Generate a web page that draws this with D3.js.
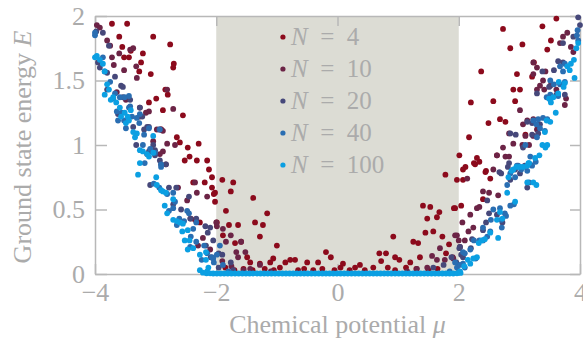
<!DOCTYPE html>
<meta charset="utf-8">
<script src="https://cdn.jsdelivr.net/npm/d3@7"></script>
<style>
body { margin: 0; background: #fff; }
text { font-family: "Liberation Serif", serif; fill: #ababab; }
.axis path, .axis line { stroke: #b8b8b8; stroke-width: 1.5px; }
.axis text { font-size: 26px; fill: #ababab; font-family: "Liberation Serif", serif; }
</style>
<body>
<div id="chart"></div>
<script>
// series labels, colours
var labels = ["4", "10", "20", "40", "100"]
var colors = ["#8c0a1c", "#6c2446", "#46487a", "#2a6eb2", "#0b9fe2"]
var xTicks = [-4, -2, 0, 2, 4]
var yTicks = [0, 0.5, 1, 1.5, 2]
var band = [-2, 2]   // shaded region in mu

// [mu, E]
var n4 = [[-3.72,1.94],[-3.47,1.94],[-3.60,1.84],[-3.04,1.84],[-2.76,1.78],[-3.55,1.76],[-3.41,1.73],[-3.21,1.71],
  [-3.52,1.68],[-3.44,1.68],[-3.24,1.64],[-2.70,1.63],[-2.71,1.60],[-3.27,1.57],[-3.08,1.55],[-2.84,1.43],[-2.80,1.39],
  [-2.99,1.36],[-3.11,1.33],[-2.88,1.27],[-2.55,1.23],[-2.91,1.12],[-2.65,1.06],[-2.60,1.02],[-2.29,1.01],[-2.47,0.98],
  [-2.44,0.91],[-2.52,0.88],[-2.32,0.88],[-2.15,0.88],[-2.12,0.81],[-2.07,0.75],[-2.19,0.71],[-2.38,0.71],[-2.07,0.67],
  [-2.02,0.63],[-2.02,0.56],[-2.35,0.42],[-2.27,0.40],[-1.99,0.40],
  [-1.90,0.73],[-1.72,0.71],[-1.76,0.64],[-2.04,0.62],[-1.39,0.59],[-1.84,0.49],[-1.16,0.47],[-1.36,0.40],[-1.23,0.38],
  [-1.79,0.38],[-1.64,0.38],[-1.89,0.30],[-1.28,0.29],[-1.69,0.24],[-1.00,0.22],[-1.59,0.25],[-1.49,0.13],[-1.44,0.09],
  [-1.28,0.08],[-1.11,0.09],[-1.06,0.12],[-0.86,0.09],[-0.78,0.11],[-0.70,0.11],[-0.50,0.09],[-0.32,0.09],[-0.19,0.17],
  [-0.11,0.13],[-1.85,0.05],[-1.70,0.03],[-1.55,0.04],[-1.40,0.03],[-1.20,0.04],[-1.05,0.03],[-0.95,0.05],[-0.65,0.03],
  [-0.55,0.04],[-0.40,0.03],[-0.25,0.04],[-0.05,0.03],[0.05,0.05],
  [1.97,0.73],[1.41,0.53],[1.53,0.52],[1.68,0.48],[1.48,0.43],[1.64,0.44],[1.92,0.51],[1.45,0.32],[1.58,0.33],[1.73,0.29],
  [0.92,0.29],[1.25,0.25],[1.33,0.24],[1.84,0.23],[1.36,0.13],[1.79,0.16],[0.69,0.16],[0.80,0.16],[0.95,0.13],[1.02,0.11],
  [1.20,0.09],[0.72,0.10],[0.09,0.08],[0.37,0.07],[0.29,0.05],[0.59,0.05],[0.83,0.05],[1.13,0.05],[0.20,0.03],[0.45,0.03],
  [0.95,0.03],[1.30,0.04],[1.50,0.03],[1.65,0.04],
  [2.73,1.90],[3.38,1.92],[3.61,1.98],[3.05,1.78],[2.85,1.75],[3.52,1.81],[3.46,1.74],[2.37,1.57],[3.24,1.64],[2.96,1.55],
  [3.21,1.53],[2.90,1.43],[3.01,1.43],[2.93,1.34],[2.20,1.33],[2.57,1.34],[2.68,1.20],[2.77,1.18],[2.49,1.17],[2.17,1.06],
  [3.10,1.08],[2.01,0.92],[2.30,0.90],[2.63,0.92],[2.25,0.86],[2.11,0.83],[2.45,0.80],[1.78,0.77],[2.07,0.81],[2.27,0.85],
  [2.34,0.87],[2.07,0.73],[2.44,0.79],[2.52,0.74],[2.40,0.58],[2.04,0.53],[1.94,0.51]]

var n10 = [[-3.97,1.93],[-3.92,1.91],[-3.80,1.81],[-3.75,1.77],[-3.72,1.68],[-3.37,1.75],[-3.42,1.74],[-3.60,1.71],
  [-3.69,1.62],[-3.52,1.58],[-3.32,1.61],[-3.31,1.52],[-3.64,1.41],[-3.49,1.35],[-3.26,1.29],[-3.11,1.26],[-2.81,1.43],
  [-2.71,1.28],[-3.16,1.25],[-3.26,1.22],[-2.91,1.12],[-2.98,1.12],[-2.88,1.11],[-2.68,1.00],[-3.14,0.93],[-2.88,0.95],
  [-3.04,1.03],[-2.81,1.01],[-2.93,0.93],[-2.83,0.85],[-2.35,0.71],[-2.32,0.63],[-2.15,0.60],[-2.63,0.67],[-2.48,0.57],
  [-2.42,0.43],[-2.22,0.28],[-2.30,0.22],[-2.10,0.19],[-1.99,0.37],
  [-2.00,0.40],[-1.89,0.35],[-1.76,0.30],[-1.84,0.25],[-1.59,0.25],[-1.67,0.17],[-1.52,0.17],[-1.64,0.13],[-1.28,0.07],
  [-1.44,0.04],[-1.75,0.06],[-1.90,0.10],[-1.10,0.02],[-1.55,0.03],
  [2.06,0.40],[1.94,0.30],[2.00,0.26],[1.69,0.20],[1.56,0.14],[1.64,0.11],[1.77,0.11],[1.48,0.05],[1.31,0.04],[1.90,0.13],[1.15,0.02],
  [2.73,0.98],[2.90,1.01],[3.05,1.00],[2.63,0.92],[2.77,0.91],[2.83,0.91],[2.57,0.81],[2.40,0.64],[2.50,0.63],[2.65,0.61],
  [2.14,0.74],[2.30,0.51],[2.34,0.52],[2.19,0.46],[2.24,0.36],[2.16,0.33],[1.97,0.30],[2.10,0.26],[2.02,0.21],[1.91,0.12],
  [3.67,1.79],[3.72,1.84],[3.79,1.87],[3.85,1.76],[3.89,1.72],[3.23,1.64],[3.29,1.60],[3.23,1.55],[3.43,1.57],[3.39,1.50],
  [3.34,1.46],[3.41,1.43],[3.29,1.43],[3.51,1.46],[3.61,1.43],[3.77,1.36],[3.75,1.31],[3.01,1.27],[3.13,1.19],[3.23,1.20],
  [3.06,1.16],[3.29,1.12],[3.10,1.07],[3.23,1.07],[2.83,1.09],[3.16,1.00]]

var n20 = [[-3.98,1.88],[-3.87,1.87],[-3.77,1.77],[-3.95,1.64],[-3.92,1.60],[-3.80,1.56],[-3.67,1.53],[-3.57,1.46],
  [-3.54,1.45],[-3.80,1.43],[-3.54,1.37],[-3.42,1.35],[-3.26,1.29],[-3.22,1.22],[-3.62,1.24],[-3.37,1.14],[-3.14,1.14],
  [-3.11,1.14],[-2.94,1.12],[-3.19,1.12],[-3.32,1.00],[-3.04,1.00],[-3.01,0.96],[-2.93,0.88],[-3.11,0.95],[-3.01,0.92],
  [-2.91,0.85],[-2.83,0.85],[-3.09,0.69],[-2.78,0.67],[-2.66,0.67],[-2.45,0.60],[-2.71,0.54],[-2.58,0.50],[-2.43,0.43],
  [-2.33,0.43],[-2.18,0.37],[-2.10,0.36],[-2.14,0.32],[-2.17,0.22],[-2.09,0.13],[-1.96,0.16],
  [-2.05,0.26],[-1.90,0.15],[-1.76,0.09],[-1.96,0.05],[-1.72,0.03],[2.01,0.20],[1.88,0.13],[1.75,0.07],[1.58,0.05],[2.04,0.15],
  [2.67,0.79],[2.83,0.86],[2.93,0.81],[3.01,0.78],[3.09,0.84],[3.13,0.67],[2.85,0.73],[2.47,0.57],[2.50,0.47],[2.63,0.46],
  [2.72,0.40],[2.45,0.40],[2.40,0.34],[2.22,0.27],[2.20,0.20],[2.07,0.13],[2.02,0.21],[1.96,0.09],
  [3.97,1.99],[4.00,1.93],[3.89,1.84],[3.72,1.79],[3.64,1.65],[3.72,1.64],[3.57,1.58],[3.38,1.57],[3.29,1.40],[3.49,1.45],
  [3.61,1.39],[3.75,1.39],[3.13,1.18],[3.21,1.17],[3.34,1.16],[3.31,1.09],[3.21,1.08],[2.94,1.08],[2.85,1.09],[3.06,0.98],
  [2.81,0.83],[2.70,0.78]]

var n40 = [[-4.00,1.87],[-4.00,1.85],[-3.87,1.68],[-3.84,1.57],[-3.75,1.49],[-3.67,1.40],[-3.59,1.37],[-3.51,1.37],
  [-3.44,1.38],[-3.70,1.36],[-3.64,1.26],[-3.56,1.25],[-3.44,1.29],[-3.62,1.19],[-3.52,1.19],[-3.39,1.22],[-3.31,1.21],
  [-3.26,1.24],[-3.27,1.17],[-3.49,1.13],[-3.19,1.08],[-3.11,1.13],[-2.93,1.12],[-3.42,1.30],[-3.21,1.00],[-3.09,0.97],
  [-3.01,0.94],[-3.18,0.86],[-2.91,0.85],[-2.91,0.83],[-3.03,0.70],[-2.94,0.67],[-2.81,0.62],[-2.71,0.63],[-2.68,0.56],
  [-2.71,0.51],[-2.78,0.49],[-2.48,0.49],[-2.45,0.47],[-2.61,0.43],[-2.53,0.41],[-2.65,0.38],[-2.38,0.35],[-2.33,0.40],
  [-2.42,0.29],[-2.33,0.25],[-2.43,0.21],[-2.20,0.22],[-2.15,0.16],[-2.07,0.13],[-2.24,0.11],[-2.04,0.09],
  [-1.94,0.22],[-1.99,0.15],[-2.05,0.12],[-1.89,0.07],[-1.80,0.02],[2.07,0.17],[2.07,0.08],[1.97,0.05],[1.85,0.02],
  [2.96,0.84],[3.06,0.83],[3.03,0.81],[3.13,0.80],[3.21,0.84],[2.85,0.78],[2.93,0.75],[2.80,0.69],[3.16,0.71],[2.91,0.54],
  [2.85,0.53],[2.68,0.51],[2.76,0.47],[2.57,0.50],[2.78,0.45],[2.70,0.42],[2.53,0.42],[2.71,0.36],[2.40,0.36],[2.52,0.33],
  [2.40,0.26],[2.34,0.26],[2.25,0.26],[2.47,0.29],[2.19,0.19],[2.10,0.16],[2.28,0.12],[2.10,0.05],[2.02,0.07],[1.94,0.09],
  [1.99,0.01],
  [3.95,1.85],[3.97,1.81],[3.96,1.89],[3.75,1.63],[3.67,1.61],[3.72,1.57],[3.51,1.50],[3.57,1.47],[3.67,1.47],[3.75,1.49],
  [3.51,1.39],[3.64,1.38],[3.45,1.37],[3.51,1.35],[3.23,1.19],[3.31,1.20],[3.39,1.21],[3.46,1.20],[3.28,1.16],[3.34,1.13],
  [3.29,1.06],[3.42,1.11],[3.10,1.00],[3.18,0.91],[3.27,0.87],[3.18,0.85],[2.98,0.84]]

var n100 = [[-4.00,1.68],[-3.97,1.69],[-3.92,1.66],[-3.87,1.63],[-3.84,1.57],[-3.80,1.47],[-3.84,1.39],[-3.77,1.43],
  [-3.70,1.37],[-3.74,1.35],[-3.65,1.33],[-3.59,1.29],[-3.51,1.25],[-3.46,1.22],[-3.41,1.27],[-3.49,1.17],[-3.44,1.19],
  [-3.34,1.06],[-3.31,1.09],[-3.04,1.07],[-3.57,1.22],[-3.37,1.10],[-3.26,0.96],[-3.21,0.95],[-3.14,0.93],[-3.11,0.91],
  [-3.04,0.94],[-3.26,0.86],[-3.29,0.77],[-2.99,0.75],[-2.98,0.69],[-2.88,0.64],[-2.91,0.65],[-2.83,0.63],[-2.71,0.58],
  [-2.85,0.53],[-2.81,0.47],[-2.71,0.42],[-2.65,0.41],[-2.60,0.40],[-2.55,0.39],[-2.56,0.33],[-2.47,0.34],[-2.52,0.26],
  [-2.44,0.26],[-2.47,0.19],[-2.38,0.20],[-2.27,0.15],[-2.17,0.17],[-2.17,0.11],[-2.27,0.03],[-2.13,0.05],[-2.15,0.02],
  [3.43,0.98],[3.38,1.00],[3.33,0.92],[3.16,0.86],[3.13,0.84],[3.06,0.83],[3.00,0.83],[2.95,0.83],[2.90,0.81],[2.87,0.80],
  [2.82,0.75],[3.23,0.71],[3.28,0.69],[3.13,0.71],[2.93,0.56],[2.80,0.63],[2.68,0.48],[2.72,0.43],[2.63,0.42],[2.52,0.32],
  [2.65,0.28],[2.43,0.27],[2.38,0.26],[2.33,0.24],[2.30,0.13],[2.24,0.12],[2.15,0.11],[2.19,0.08],[2.09,0.06],[2.02,0.02],
  [3.97,1.79],[3.94,1.75],[3.90,1.66],[3.85,1.63],[3.79,1.61],[3.83,1.58],[3.91,1.52],[3.75,1.48],[3.65,1.49],[3.73,1.45],
  [3.64,1.40],[3.56,1.37],[3.49,1.36],[3.52,1.33],[3.60,1.25],[3.45,1.19],[3.51,1.18],[3.42,1.10],[3.46,1.00],[3.26,0.90],
  [3.15,0.86],
  // flat part at E ~ 0
  [-2.22,0.01],[-2.16,0.005],[-2.10,0.005],[-2.05,0.004],[-1.99,0.004],[-1.93,0.004],[-1.87,0.004],[-1.81,0.004],
  [-1.75,0.004],[-1.69,0.004],[-1.63,0.004],[-1.57,0.004],[-1.51,0.004],[-1.45,0.004],[-1.39,0.004],[-1.33,0.004],
  [-1.27,0.004],[-1.21,0.004],[-1.15,0.004],[-1.09,0.004],[-1.03,0.004],[-0.97,0.004],[-0.91,0.004],[-0.85,0.004],
  [-0.79,0.004],[-0.73,0.004],[-0.67,0.004],[-0.61,0.004],[-0.55,0.004],[-0.49,0.004],[-0.43,0.004],[-0.37,0.004],
  [-0.31,0.004],[-0.25,0.004],[-0.19,0.004],[-0.13,0.004],[-0.07,0.004],[-0.01,0.004],[0.05,0.004],[0.11,0.004],
  [0.17,0.004],[0.23,0.004],[0.29,0.004],[0.35,0.004],[0.41,0.004],[0.47,0.004],[0.53,0.004],[0.59,0.004],
  [0.65,0.004],[0.71,0.004],[0.77,0.004],[0.83,0.004],[0.89,0.004],[0.95,0.004],[1.01,0.004],[1.07,0.004],
  [1.13,0.004],[1.19,0.004],[1.25,0.004],[1.31,0.004],[1.37,0.004],[1.43,0.004],[1.49,0.004],[1.55,0.004],
  [1.61,0.004],[1.67,0.004],[1.73,0.004],[1.79,0.004],[1.85,0.004],[1.91,0.004],[1.97,0.005],[2.03,0.008]]

var series = [n4, n10, n20, n40, n100]

margin = {top: 16, right: 3, bottom: 71, left: 95}
width = 583 - margin.left - margin.right
height = 345 - margin.top - margin.bottom

svg = d3.select("#chart").append("svg")
    .attr("width", 583)
    .attr("height", 345)

g = svg.append("g")
    .attr("transform", "translate(" + margin.left + "," + margin.top + ")")

x = d3.scaleLinear().domain([-4, 4]).range([0, width])
y = d3.scaleLinear().domain([0, 2]).range([height, 0])

// shaded band
g.append("rect")
  .attr("x", x(band[0]))
  .attr("y", 0)
  .attr("width", x(band[1]) - x(band[0]))
  .attr("height", height)
  .attr("fill", "#dcdcd4")

// frame + ticks (inward on all sides)
g.append("g").attr("class", "axis")
  .attr("transform", "translate(0," + height + ")")
  .call(d3.axisBottom(x).tickValues(xTicks).tickSizeInner(-10).tickSizeOuter(0).tickPadding(9))
g.append("g").attr("class", "axis")
  .call(d3.axisTop(x).tickValues(xTicks).tickSizeInner(-10).tickSizeOuter(0).tickFormat(""))
g.append("g").attr("class", "axis")
  .call(d3.axisLeft(y).tickValues(yTicks).tickFormat(d3.format("~g")).tickSizeInner(-12).tickSizeOuter(0).tickPadding(10))
g.append("g").attr("class", "axis")
  .attr("transform", "translate(" + width + ",0)")
  .call(d3.axisRight(y).tickValues(yTicks).tickSizeInner(-10).tickSizeOuter(0).tickFormat(""))

// points, N=4 at the bottom, N=100 on top
series.forEach(function(s, i){
  g.append("g").selectAll("circle")
    .data(s)
    .enter()
    .append("circle")
    .attr("cx", function(d){ return x(d[0]) })
    .attr("cy", function(d){ return y(d[1]) })
    .attr("r", 2.9)
    .attr("fill", colors[i])
})

// legend
legend = g.append("g").attr("transform", "translate(" + (x(-0.9)) + ",0)")
labels.forEach(function(l, i){
  row = legend.append("g").attr("transform", "translate(0," + (21 + i * 32) + ")")
  row.append("circle").attr("r", 2.6).attr("fill", colors[i])
  t = row.append("text").attr("x", 8).attr("dy", "0.33em").style("font-size", "25px")
  t.append("tspan").style("font-style", "italic").text("N")
  t.append("tspan").text("\u2002=\u2002" + l)
})

// axis titles
svg.append("text")
  .attr("x", margin.left + x(0))
  .attr("y", 333)
  .attr("text-anchor", "middle")
  .style("font-size", "26px")
  .html('Chemical potential <tspan font-style="italic">μ</tspan>')

svg.append("text")
  .attr("transform", "translate(31," + (margin.top + height / 2 + 2) + ") rotate(-90)")
  .attr("text-anchor", "middle")
  .style("font-size", "26px")
  .html('Ground state energy <tspan font-style="italic">E</tspan>')
</script>
</body>
